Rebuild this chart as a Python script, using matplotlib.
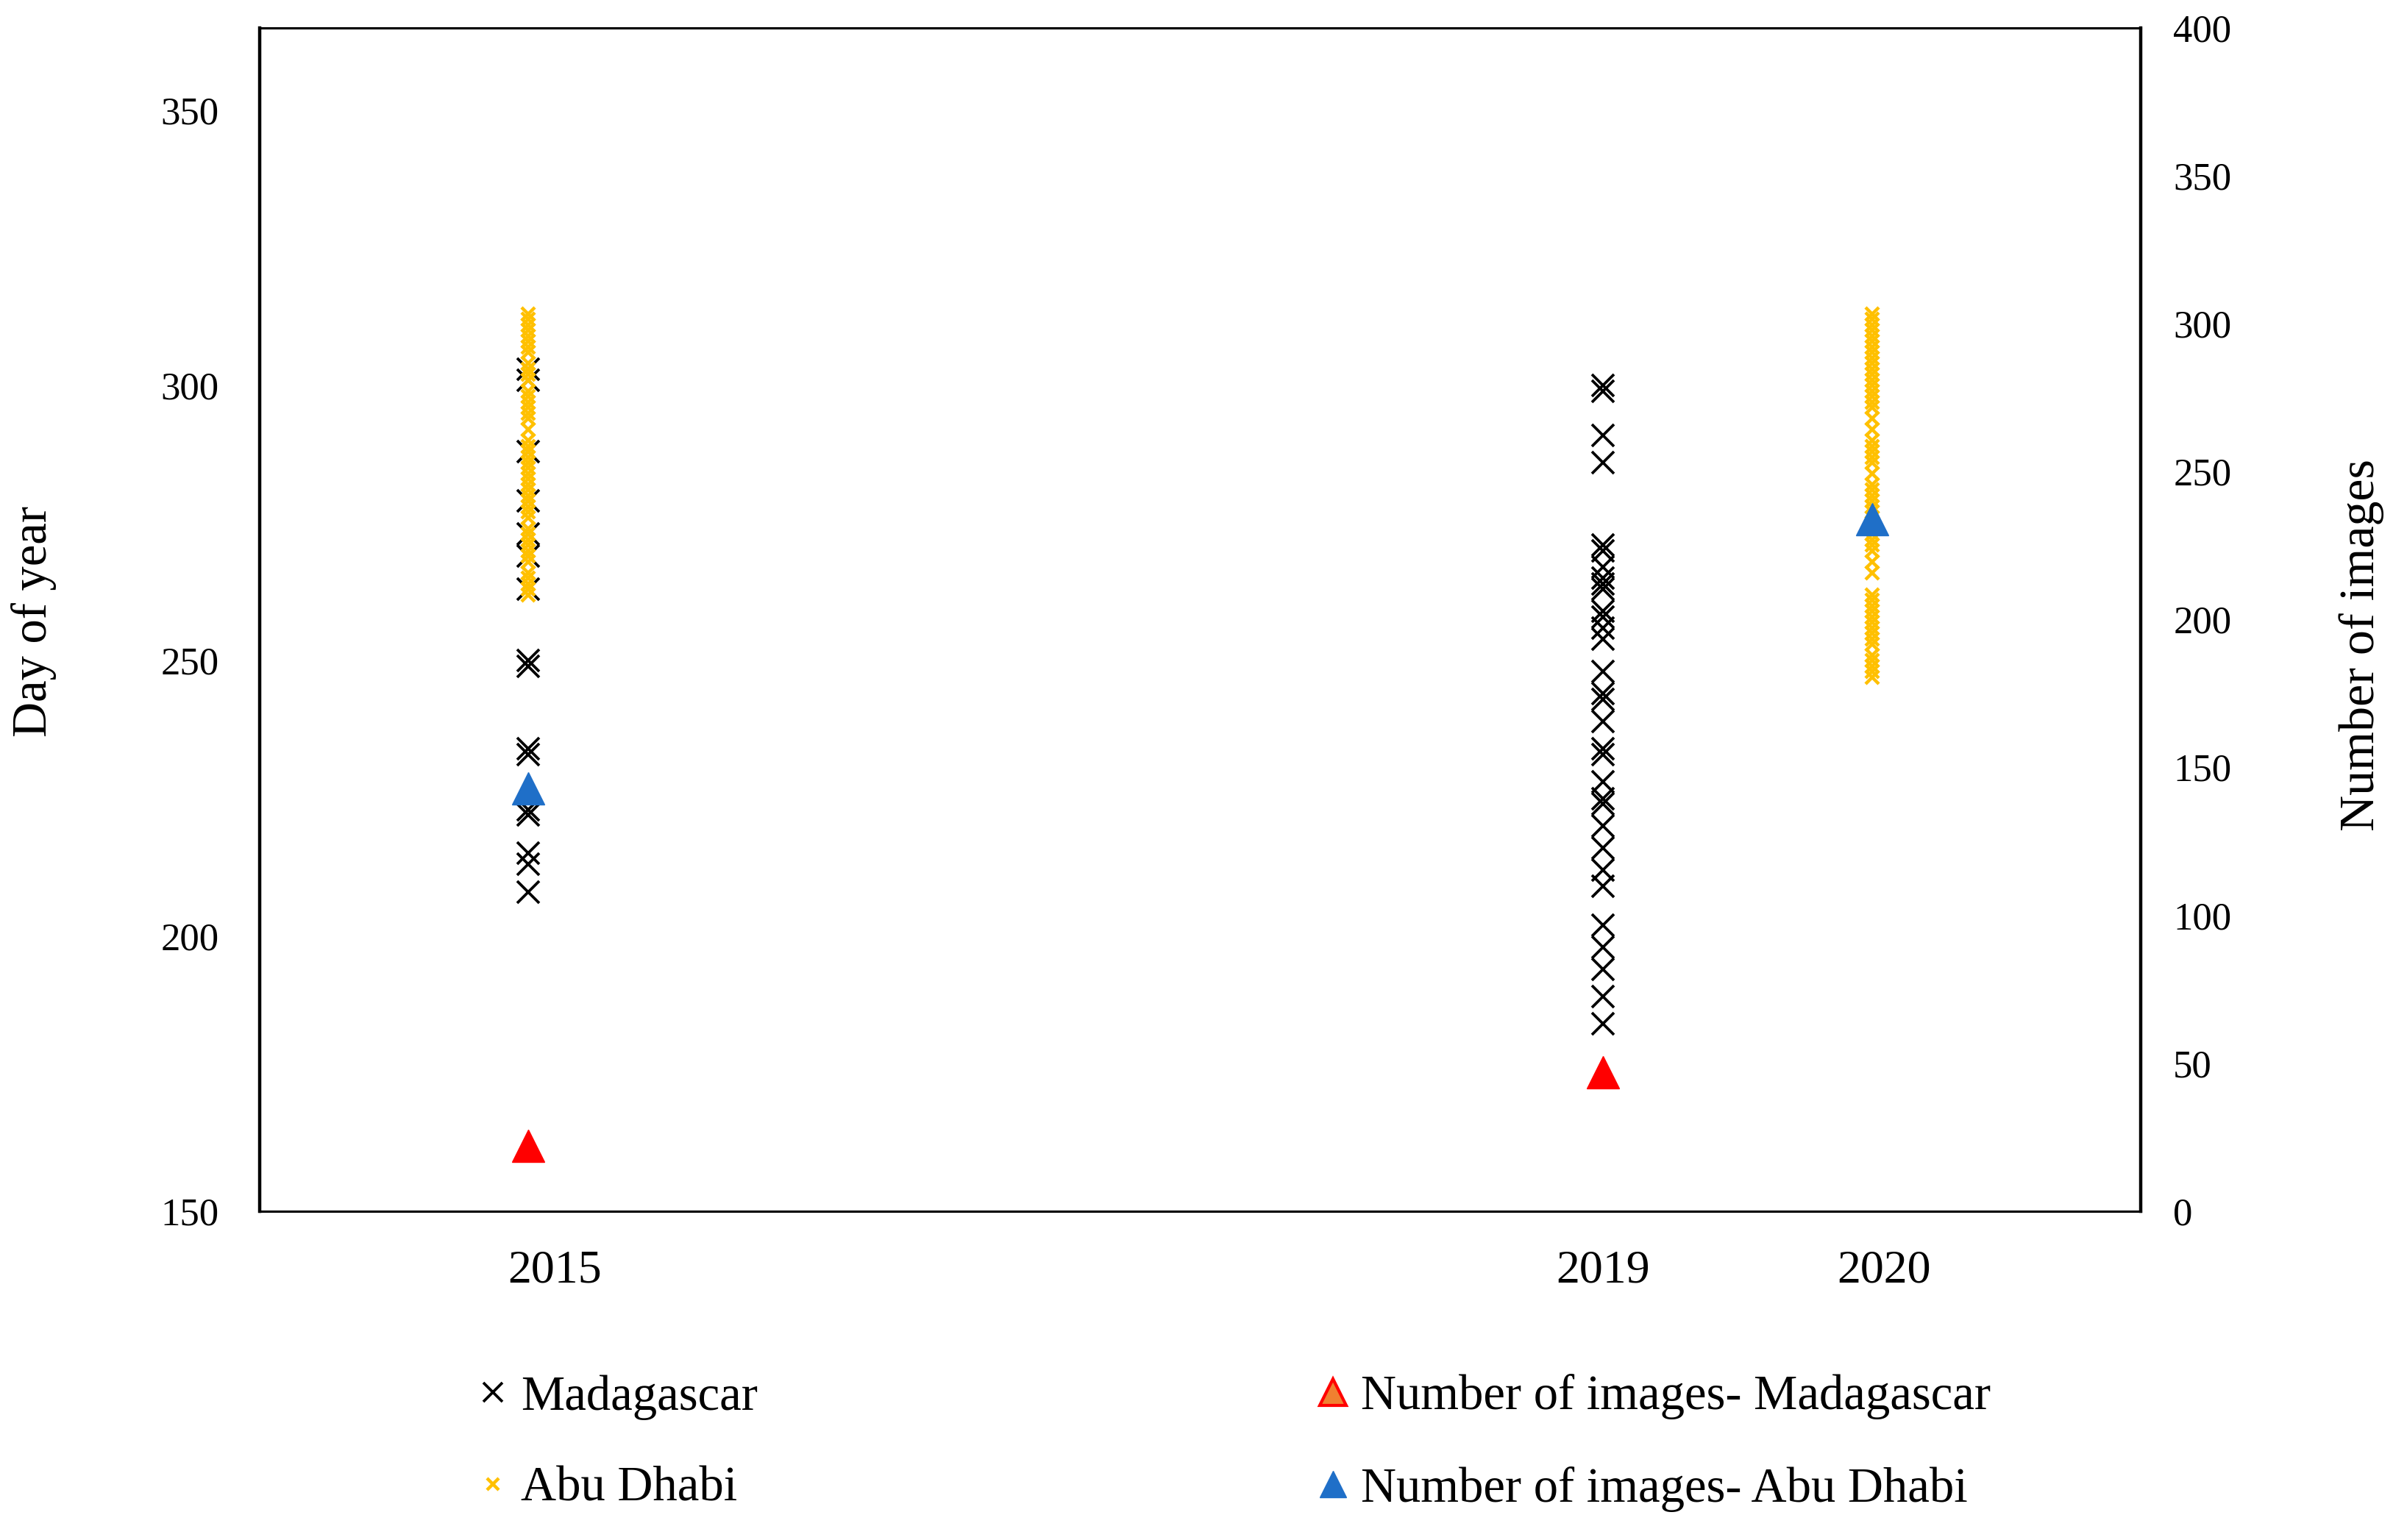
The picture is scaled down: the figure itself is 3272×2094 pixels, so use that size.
import matplotlib.pyplot as plt
from matplotlib.lines import Line2D
from matplotlib.transforms import ScaledTranslation
import numpy as np

plt.rcParams['font.family'] = ['Liberation Serif', 'DejaVu Serif']

# day of year of each image date
mada_2015 = [208, 213, 215, 222, 223, 233, 234, 249, 250, 263, 269, 273, 279, 288, 301, 303]
mada_2019 = [184, 189, 194, 198, 202, 209, 212, 216, 220, 224, 225, 228, 233, 234, 239, 243,
             244, 248, 254, 256, 258, 259, 263, 264, 265, 267, 270, 271, 286, 291, 299, 300]
abu_2015 = [262, 263, 264, 265, 266, 268, 269, 270, 271, 272, 273, 274, 276, 277, 278, 279,
            280, 281, 282, 283, 284, 285, 286, 287, 288, 289, 290, 292, 294, 295, 296, 297,
            298, 299, 301, 302, 303, 304, 306, 307, 308, 309, 310, 311, 312, 313]
abu_2020 = [247, 248, 249, 250, 251, 253, 254, 255, 256, 257, 258, 259, 260, 261, 262, 266,
            268, 270, 271, 272, 273, 274, 275, 276, 277, 278, 279, 280, 281, 282, 284, 286,
            287, 288, 289, 290, 292, 294, 296, 297, 298, 299, 300, 301, 302, 303, 304, 305,
            306, 307, 308, 309, 310, 311, 312, 313]

# number of images per year
mada_years = [2015, 2019]
mada_count = [22, 47]
abu_years = [2015, 2020]
abu_count = [143, 234]

xticks = [2015, 2019, 2020]
tick_shift_pt = [26, 0, 12]   # labels sit a little right of the data columns

fig = plt.figure(figsize=(32.72, 20.94), dpi=100)
ax = fig.add_axes([0.1079, 0.2135, 0.7814, 0.7685])
ax2 = ax.twinx()

blk = dict(ls='none', marker='x', color='black', ms=21, mew=2.7)
yel = dict(ls='none', marker='x', color='#FFC000', ms=13, mew=3.2)
ax.plot(np.full(len(mada_2015), 2015), mada_2015, **blk)
ax.plot(np.full(len(mada_2019), 2019), mada_2019, **blk)
ax.plot(np.full(len(abu_2015), 2015), abu_2015, **yel)
ax.plot(np.full(len(abu_2020), 2020), abu_2020, **yel)

ax2.plot(mada_years, mada_count, ls='none', marker='^', ms=31, color='#FF0000', mec='#FF0000')
ax2.plot(abu_years, abu_count, ls='none', marker='^', ms=31, color='#1F6FC8', mec='#1F6FC8')

ax.set_xlim(2014, 2021)
ax.set_ylim(150, 365)
ax.set_yticks([150, 200, 250, 300, 350])
ax2.set_ylim(0, 400)
ax2.set_yticks(np.arange(0, 401, 50))
ax.set_xticks(xticks)
ax.set_xticklabels([str(x) for x in xticks])

ax.tick_params(axis='x', length=0, pad=38, labelsize=46)
ax.tick_params(axis='y', length=0, pad=40, labelsize=38)
ax2.tick_params(axis='y', length=0, pad=32, labelsize=38)
for lab, dx in zip(ax.get_xticklabels(), tick_shift_pt):
    lab.set_transform(lab.get_transform() + ScaledTranslation(dx / 72, 0, fig.dpi_scale_trans))

for a in (ax, ax2):
    for s in a.spines.values():
        s.set_linewidth(2.2)
        s.set_color('black')
ax.spines['left'].set_linewidth(3.2)
ax2.spines['right'].set_linewidth(3.2)

fig.text(0.014, 0.5965, 'Day of year', rotation=90, ha='center', va='center', fontsize=48)
fig.text(0.981, 0.581, 'Number of images', rotation=90, ha='center', va='center', fontsize=49)

h1 = [Line2D([], [], ls='none', marker='x', color='black', ms=19, mew=2.7),
      Line2D([], [], ls='none', marker='x', color='#FFC000', ms=12, mew=3.2)]
h2 = [Line2D([], [], ls='none', marker='^', ms=26, mfc='#F08030', mec='#FF0000', mew=3),
      Line2D([], [], ls='none', marker='^', ms=26, color='#1F6FC8')]
leg_kw = dict(frameon=False, fontsize=48, handlelength=0.75, handletextpad=0.2,
              labelspacing=0.95, borderpad=0, borderaxespad=0, loc='center left')
fig.legend(h1, ['Madagascar', 'Abu Dhabi'], bbox_to_anchor=(0.197, 0.063), **leg_kw)
fig.legend(h2, ['Number of images- Madagascar', 'Number of images- Abu Dhabi'],
           bbox_to_anchor=(0.546, 0.063), **leg_kw)

fig.savefig('out.png', dpi=100)
